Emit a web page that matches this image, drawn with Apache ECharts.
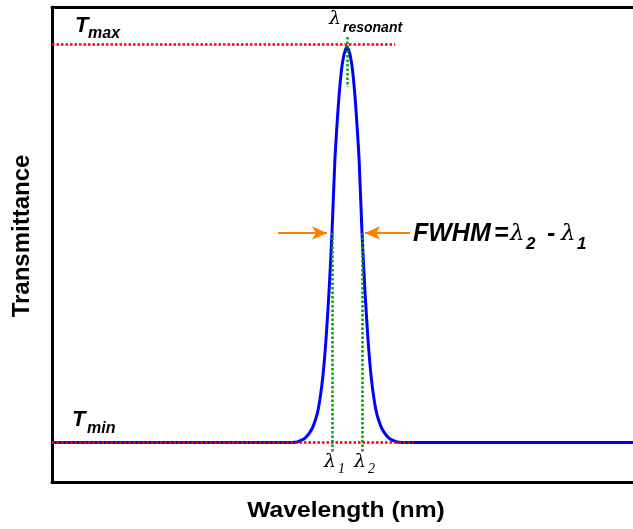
<!DOCTYPE html>
<html><head><meta charset="utf-8">
<script src="https://cdn.jsdelivr.net/npm/echarts@6/dist/echarts.min.js"></script>
<style>html,body{margin:0;padding:0;background:#fff}#c{width:633px;height:529px}</style>
</head><body><div id="c"></div>
<script>
// Wavelength (arbitrary units) and transmittance (normalised: Tmin = 0, Tmax = 1)
const wavelength = [0,240,245,249,253,257,261,265,268,271,274,277,280,283,286,289,292,295,298,301,304,307,310,313,316,319,322,325,329,333,337,341,345,350,581];
const transmittance = [0,0,0.001,0.005,0.011,0.022,0.04,0.07,0.11,0.17,0.26,0.38,0.53,0.72,0.84,0.93,0.98,1.0,0.98,0.93,0.84,0.72,0.53,0.38,0.26,0.17,0.11,0.07,0.04,0.022,0.011,0.005,0.001,0,0];
const lambdaRes = 295, lambda1 = 280, lambda2 = 310;
const Tmax = 1.005, Tmin = 0;
const halfLevel = 0.529;

const SANS = "'Liberation Sans', Arial, sans-serif";
const SERIF = "'DejaVu Serif', 'Liberation Serif', serif";
const chart = echarts.init(document.getElementById('c'), null, {renderer:'canvas'});
function txt(text, x, y, font, extra){
  return Object.assign({type:'text', style:{text:text, x:x, y:y, font:font, fill:'#000', align:'left', verticalAlign:'middle'}}, extra||{});
}
const axLine = {show:true, onZero:false, lineStyle:{color:'#000', width:3}};
chart.setOption({
  animation:false,
  grid:{left:52, top:7, right:0, bottom:47, show:false},
  xAxis:[
    {type:'value', min:0, max:581, position:'bottom', axisLine:axLine, axisTick:{show:false}, axisLabel:{show:false}, splitLine:{show:false}},
    {type:'value', min:0, max:581, position:'top', axisLine:axLine, axisTick:{show:false}, axisLabel:{show:false}, splitLine:{show:false}}
  ],
  yAxis:{type:'value', min:-0.1, max:1.1, axisLine:axLine, axisTick:{show:false}, axisLabel:{show:false}, splitLine:{show:false}},
  series:[
    {type:'line', data:wavelength.map((w,i)=>[w, transmittance[i]]), symbol:'none', smooth:0.2,
     lineStyle:{color:'#0000ff', width:3}, z:2},
    {type:'line', data:[], z:5, markLine:{silent:true, symbol:'none', label:{show:false},
      lineStyle:{color:'#ff0000', width:2.5, type:[2.5,2]},
      data:[
        [{coord:[0,Tmax]},{coord:[343,Tmax]}],
        [{coord:[0,Tmin]},{coord:[361,Tmin]}]
      ]}},
    {type:'line', data:[], z:6, markLine:{silent:true, symbol:'none', label:{show:false},
      lineStyle:{color:'#00a000', width:2.5, type:[2.5,2]},
      data:[
        [{coord:[lambdaRes,1.024]},{coord:[lambdaRes,0.898]}],
        [{coord:[lambda1,halfLevel]},{coord:[lambda1,-0.024]}],
        [{coord:[lambda2,halfLevel]},{coord:[lambda2,-0.024]}]
      ]}},
    {type:'line', data:[], z:7, markLine:{silent:true, symbol:['none','arrow'], symbolSize:[10,15], label:{show:false},
      lineStyle:{color:'#ff8000', width:2, type:'solid'},
      data:[
        [{coord:[226,halfLevel]},{coord:[275,halfLevel]}],
        [{coord:[358,halfLevel]},{coord:[313,halfLevel]}]
      ]}}
  ],
  graphic:[
    txt('T',75,26,"italic bold 22px "+SANS),
    txt('max',88,34,"italic bold 16px "+SANS),
    txt('T',72,420,"italic bold 22px "+SANS),
    txt('min',87,429,"italic bold 16px "+SANS),
    txt('λ',329,19,"italic 19px "+SERIF),
    txt('resonant',343,28,"italic bold 14px "+SANS),
    txt('FWHM',413,234,"italic bold 25px "+SANS),
    txt('=',494,234,"italic bold 25px "+SANS),
    txt('λ',510,234,"italic 23px "+SERIF),
    txt('2',526,244,"italic bold 17px "+SANS),
    txt('-',547,234,"italic bold 25px "+SANS),
    txt('λ',561,234,"italic 23px "+SERIF),
    txt('1',577,244,"italic bold 17px "+SANS),
    txt('λ',324,462,"italic 19px "+SERIF),
    txt('1',338,469,"italic 14px 'Liberation Serif', serif"),
    txt('λ',354,462,"italic 19px "+SERIF),
    txt('2',368,469,"italic 14px 'Liberation Serif', serif"),
    {type:'text', x:22, y:236, rotation:Math.PI/2, style:{text:'Transmittance', x:0, y:0, font:"bold 24px "+SANS, fill:'#000', align:'center', verticalAlign:'middle'}},
    {type:'text', x:346, y:511, scaleX:1.12, style:{text:'Wavelength (nm)', x:0, y:0, font:"bold 22px "+SANS, fill:'#000', align:'center', verticalAlign:'middle'}}
  ]
});
</script></body></html>
